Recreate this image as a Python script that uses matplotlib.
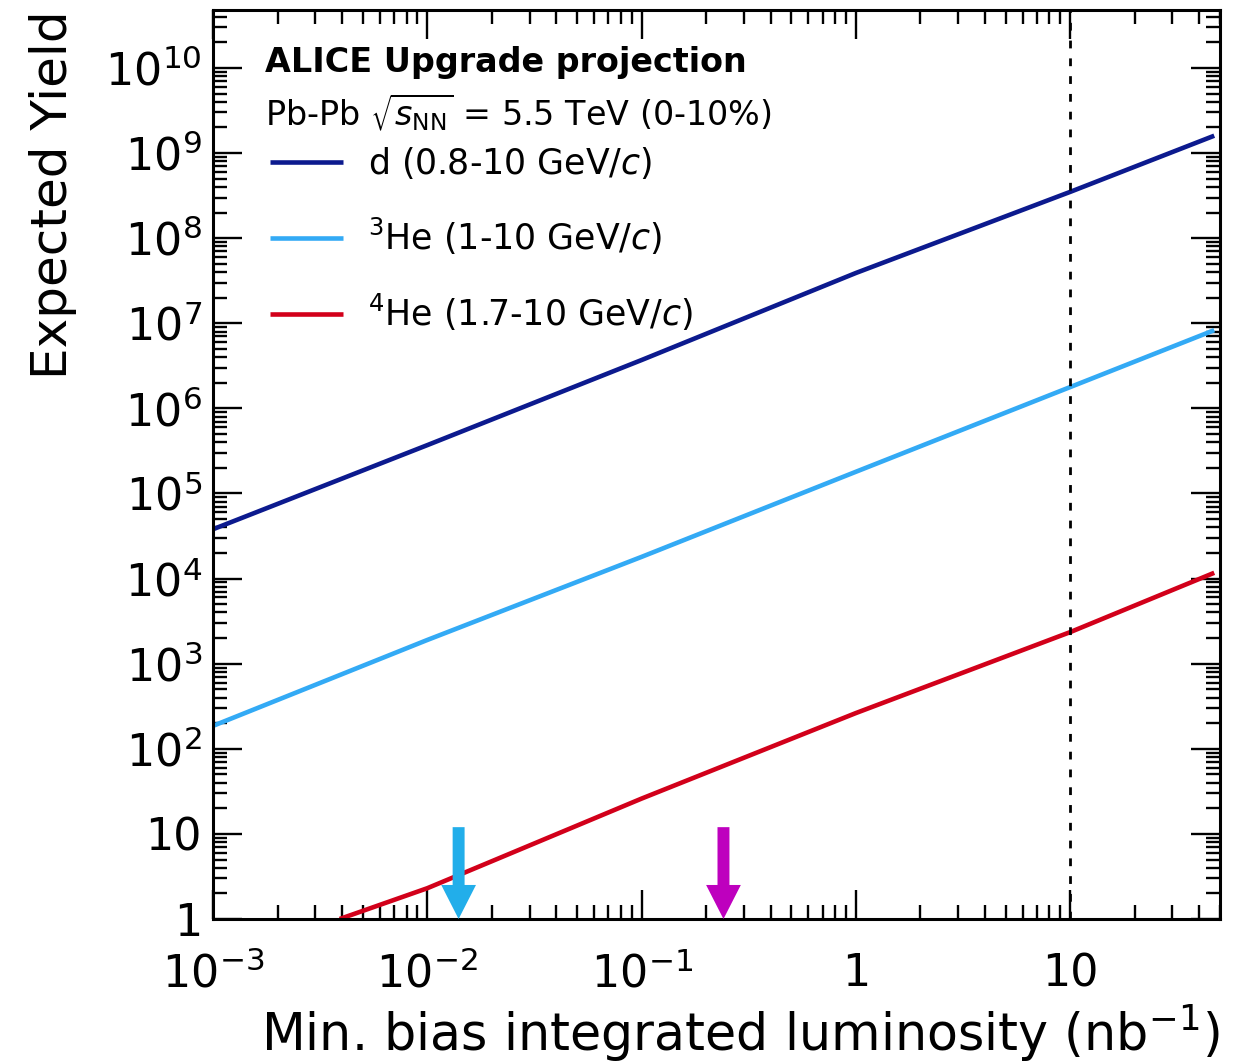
import numpy as np
import matplotlib
matplotlib.use("Agg")
import matplotlib.pyplot as plt
from matplotlib.ticker import LogLocator, NullFormatter, FuncFormatter, FixedLocator

plt.rcParams['font.family'] = ['DejaVu Sans']
plt.rcParams['mathtext.fontset'] = 'dejavusans'

# ---- data ----
lumi = [1e-3, 1e-2, 1e-1, 1, 10, 47]
yield_d = [3.8e4, 3.7e5, 3.7e6, 3.9e7, 3.5e8, 1.6e9]
yield_he3 = [186, 1.9e3, 1.8e4, 1.8e5, 1.78e6, 8.3e6]
lumi_he4 = [3.9e-3, 1e-2, 1e-1, 1, 10, 47]
yield_he4 = [1.0, 2.3, 26, 263, 2.35e3, 1.17e4]

labels = ["d (0.8-10 GeV/$c$)", "$^{3}$He (1-10 GeV/$c$)", "$^{4}$He (1.7-10 GeV/$c$)"]
colors = ["#0c1a8e", "#33aaf5", "#d2001a"]

arrow_x = [0.0140, 0.241]
arrow_colors = ["#22aeea", "#be00be"]
arrow_top = 12
arrow_tip = 1

ref_lumi = 10

x_ticks = [1e-3, 1e-2, 1e-1, 1, 10]
y_ticks = [1, 10, 1e2, 1e3, 1e4, 1e5, 1e6, 1e7, 1e8, 1e9, 1e10]

fig = plt.figure(figsize=(12.45, 10.64), dpi=100)
ax = fig.add_axes([213/1245, 1-919/1064, (1220-213)/1245, (919-10)/1064])
ax.set_xscale('log')
ax.set_yscale('log')
ax.set_xlim(1e-3, 50)
ax.set_ylim(1, 4.8e10)

for xs, ys, lab, col in zip([lumi, lumi, lumi_he4], [yield_d, yield_he3, yield_he4], labels, colors):
    ax.plot(xs, ys, color=col, lw=3.3, label=lab, solid_capstyle='butt')

ax.axvline(ref_lumi, color='black', lw=2.0, ls=(0, (2.8, 3.6)))

for xa, ca in zip(arrow_x, arrow_colors):
    ax.annotate('', xy=(xa, arrow_tip), xytext=(xa, arrow_top),
                arrowprops=dict(facecolor=ca, edgecolor='none', width=8.6,
                                headwidth=25, headlength=24.5, shrink=0),
                annotation_clip=False, zorder=5)

def logfmt(v, pos):
    if abs(v - 1) < 1e-9:
        return "1"
    if abs(v - 10) < 1e-9:
        return "10"
    return r"$10^{%d}$" % int(round(np.log10(v)))

ax.xaxis.set_major_locator(FixedLocator(x_ticks))
ax.yaxis.set_major_locator(FixedLocator(y_ticks))
ax.xaxis.set_major_formatter(FuncFormatter(logfmt))
ax.yaxis.set_major_formatter(FuncFormatter(logfmt))
ax.xaxis.set_minor_locator(LogLocator(base=10, subs=np.arange(2, 10), numticks=50))
ax.yaxis.set_minor_locator(LogLocator(base=10, subs=np.arange(2, 10), numticks=50))
ax.xaxis.set_minor_formatter(NullFormatter())
ax.yaxis.set_minor_formatter(NullFormatter())

ax.tick_params(which='both', direction='in', top=True, right=True, width=1.7, labelsize=32)
ax.tick_params(which='major', length=21)
ax.tick_params(which='minor', length=10)
ax.tick_params(axis='x', which='major', pad=24)
ax.tick_params(axis='y', which='major', pad=8)
for s in ax.spines.values():
    s.set_linewidth(2.2)

ax.set_xlabel("Min. bias integrated luminosity (nb$^{-1}$)", fontsize=36.5, loc='right', labelpad=4)
ax.set_ylabel("Expected Yield", fontsize=36, loc='top', labelpad=20)

ax.text(0.0516, 0.9417, "ALICE Upgrade projection", transform=ax.transAxes,
        fontsize=24, fontweight='bold', va='center', ha='left')
ax.text(0.0516, 0.888, r"Pb-Pb $\sqrt{s_{\rm NN}}$ = 5.5 TeV (0-10%)", transform=ax.transAxes,
        fontsize=24, va='center', ha='left')

ax.legend(loc='upper left', bbox_to_anchor=(0.0566, 0.851), frameon=False, fontsize=25,
          handlelength=2.1, handletextpad=0.72, labelspacing=1.0, borderpad=0, borderaxespad=0)

fig.savefig("out.png", dpi=100)
